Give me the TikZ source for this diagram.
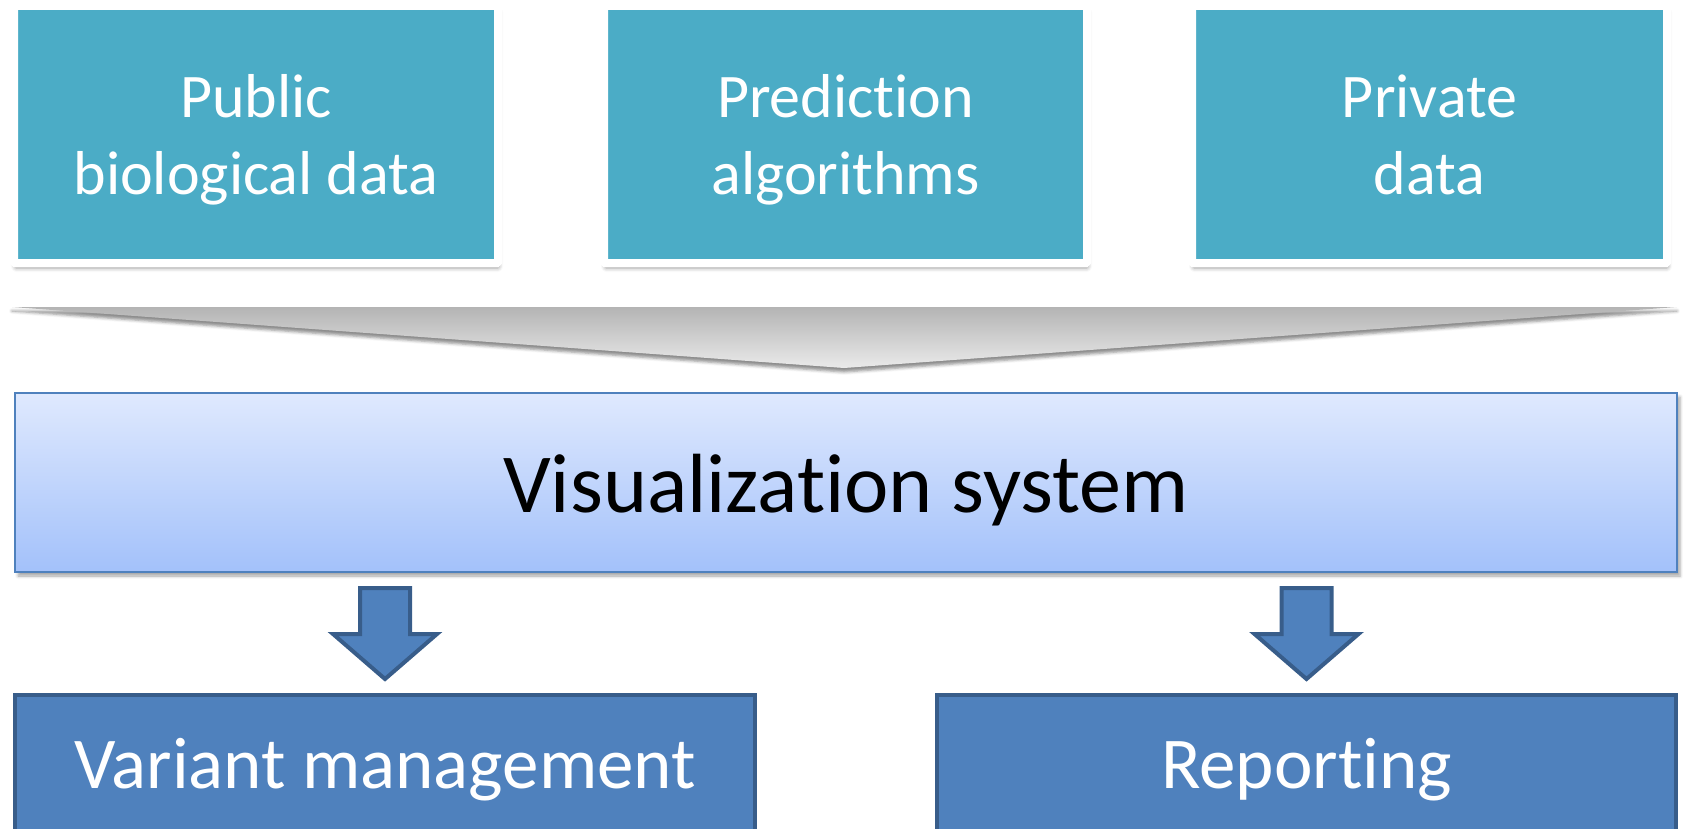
\documentclass[tikz,border=0pt]{standalone}
\usepackage{fontspec}
\setmainfont{Carlito}[Ligatures=CommonOff]
\usetikzlibrary{calc,shadows.blur}

\definecolor{srcteal}{HTML}{4BACC6}
\definecolor{accblue}{HTML}{4F81BD}
\definecolor{accdark}{HTML}{385D8A}
\definecolor{vistop}{HTML}{DFE9FE}
\definecolor{visbot}{HTML}{A3C1FA}
\definecolor{funtop}{HTML}{B4B4B4}
\definecolor{funbot}{HTML}{EAEAEA}

\tikzset{
  srcbox/.style = {draw = white, line width = 8pt, fill = srcteal, rounded corners = 1pt,
    text = white, align = center, inner sep = 0pt, minimum height = 257pt,
    font = \fontsize{62}{77}\selectfont, text height = 132pt, text depth = 13pt,
    blur shadow = {shadow xshift = 1pt, shadow yshift = -5pt, shadow blur radius = 4pt, shadow opacity = 40}},
  visbox/.style = {draw = accblue, line width = 2.5pt, top color = vistop, bottom color = visbot,
    inner sep = 0pt, minimum width = 1662pt, minimum height = 179pt,
    font = \fontsize{84}{100}\selectfont, text height = 61pt, text depth = 2pt,
    blur shadow = {shadow xshift = 3pt, shadow yshift = -4pt, shadow blur radius = 3pt, shadow opacity = 35}},
  outbox/.style = {draw = accdark, line width = 4pt, fill = accblue, text = white,
    inner sep = 0pt, minimum height = 152pt,
    font = \fontsize{73}{88}\selectfont, text height = 50pt, text depth = 16pt},
  blockarrow/.style = {draw = accdark, line width = 4pt, fill = accblue, line join = miter}
}

\begin{document}
\begin{tikzpicture}[x = 1pt, y = -1pt]
\useasboundingbox (0,0) rectangle (1683,829);

% inputs
\node[srcbox, minimum width = 484pt] (pub)  at (256,134.5)    {Public\\biological data};
\node[srcbox, minimum width = 483pt] (pred) at (845.5,134.5)  {Prediction\\algorithms};
\node[srcbox, minimum width = 475pt] (priv) at (1429.5,134.5) {Private\\data};

% funnel into the system
\path[top color = funtop, bottom color = funbot,
  blur shadow = {shadow xshift = 0pt, shadow yshift = -4pt, shadow blur radius = 3pt, shadow opacity = 45}]
  (12,307) -- (1677,307) -- (844,368) -- cycle;

\node[visbox] (vis) at (846,482.5) {Visualization system};

% outputs
\node[outbox, minimum width = 740pt] (vm)  at (385,771)    {Variant management};
\node[outbox, minimum width = 739pt] (rep) at (1306.5,771) {Reporting};

\coordinate (tipvm)  at ($(vm.north)+(0,-14)$);
\coordinate (tiprep) at ($(rep.north)+(0,-14)$);
\draw[blockarrow] (tipvm) -- ++(-52,-45) -- ++(27,0) -- ++(0,-46) -- ++(50,0) -- ++(0,46) -- ++(27,0) -- cycle;
\draw[blockarrow] (tiprep) -- ++(-52,-45) -- ++(27,0) -- ++(0,-46) -- ++(50,0) -- ++(0,46) -- ++(27,0) -- cycle;
\end{tikzpicture}
\end{document}
